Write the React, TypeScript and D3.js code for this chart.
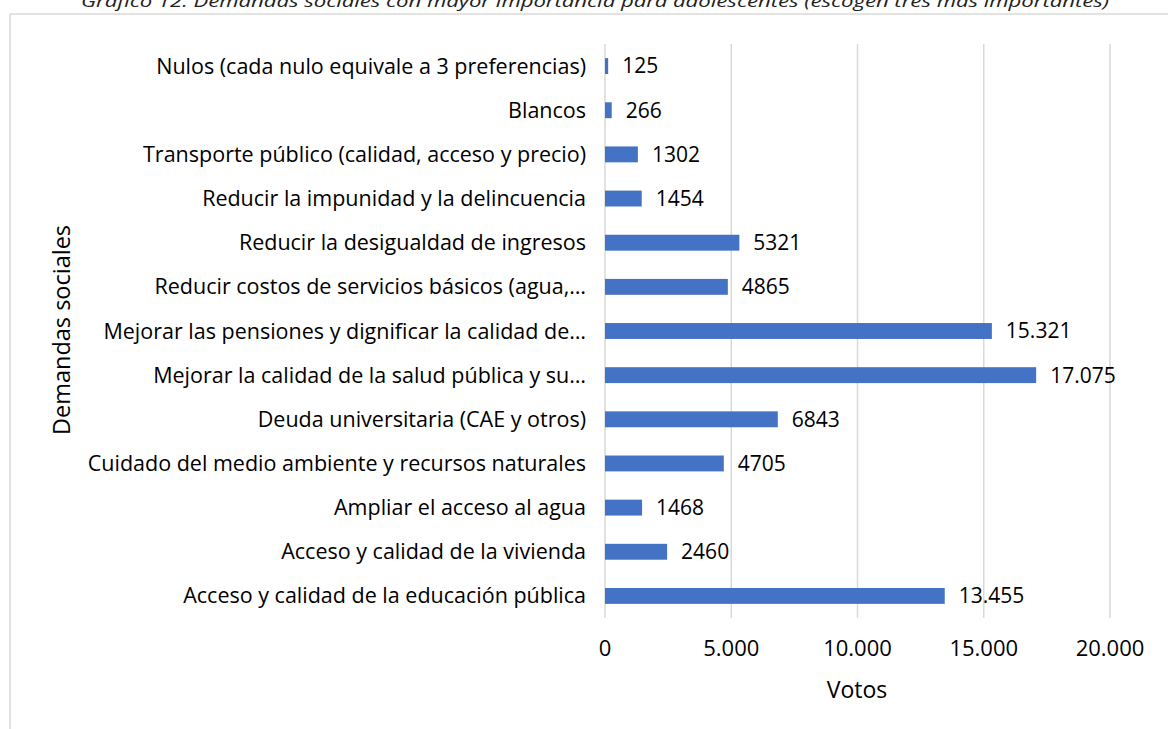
import React from "react";
import * as d3 from "d3";

const categories = [
  "Nulos (cada nulo equivale a 3 preferencias)",
  "Blancos",
  "Transporte público (calidad, acceso y precio)",
  "Reducir la impunidad y la delincuencia",
  "Reducir la desigualdad de ingresos",
  "Reducir costos de servicios básicos (agua,…",
  "Mejorar las pensiones y dignificar la calidad de…",
  "Mejorar la calidad de la salud pública y su…",
  "Deuda universitaria (CAE y otros)",
  "Cuidado del medio ambiente y recursos naturales",
  "Ampliar el acceso al agua",
  "Acceso y calidad de la vivienda",
  "Acceso y calidad de la educación pública",
];
const votes = [125, 266, 1302, 1454, 5321, 4865, 15321, 17075, 6843, 4705, 1468, 2460, 13455];
const xTicks = [0, 5000, 10000, 15000, 20000];
const title =
  "Gráfico 12: Demandas sociales con mayor importancia para adolescentes (escogen tres más importantes)";

const W = 1168;
const H = 729;
const FONT = "'Open Sans', sans-serif";

const fmtThousands = (v: number) => {
  const s = String(Math.round(v));
  return s.replace(/\B(?=(\d{3})+(?!\d))/g, ".");
};
const fmtLabel = (v: number) => (v >= 10000 ? fmtThousands(v) : String(v));
const fmtTick = (v: number) => (v === 0 ? "0" : fmtThousands(v));

export default function App() {
  const x = d3.scaleLinear().domain([0, 20000]).range([605, 1110]);
  const y = d3
    .scaleBand<string>()
    .domain(categories)
    .range([44, 618])
    .paddingInner(0.64)
    .paddingOuter(0.32);
  const bh = y.bandwidth();

  return (
    <svg
      width={W}
      height={H}
      style={{ position: "absolute", left: 0, top: 0, background: "#fff" }}
      fontFamily={FONT}
    >
      <rect x={0} y={0} width={W} height={H} fill="#fff" />
      <text
        x={595}
        y={7}
        textAnchor="middle"
        fontStyle="italic"
        fontSize={16}
        textLength={1028}
        lengthAdjust="spacingAndGlyphs"
        fill="#222"
      >
        {title}
      </text>
      {/* frame */}
      <rect x={10} y={14} width={W + 20} height={H + 20} fill="none" stroke="#d9d9d9" strokeWidth={1.5} />
      {/* gridlines */}
      {xTicks.map((t) => (
        <line key={t} x1={x(t)} x2={x(t)} y1={44} y2={618} stroke="#d9d9d9" strokeWidth={1.5} />
      ))}
      {/* bars */}
      {categories.map((c, i) => (
        <rect key={c} x={x(0)} y={y(c)!} width={x(votes[i]) - x(0)} height={bh} fill="#4472C4" />
      ))}
      {/* value labels */}
      {categories.map((c, i) => (
        <text
          key={c + "v"}
          x={x(votes[i]) + 14}
          y={y(c)! + bh / 2}
          dy="0.35em"
          fontSize={21}
          fill="#000"
        >
          {fmtLabel(votes[i])}
        </text>
      ))}
      {/* category labels */}
      {categories.map((c) => (
        <text
          key={c + "l"}
          x={586}
          y={y(c)! + bh / 2}
          dy="0.35em"
          textAnchor="end"
          fontSize={21.5}
          fill="#000"
        >
          {c}
        </text>
      ))}
      {/* tick labels */}
      {xTicks.map((t) => (
        <text key={t + "t"} x={x(t)} y={648} dy="0.35em" textAnchor="middle" fontSize={22} fill="#000">
          {fmtTick(t)}
        </text>
      ))}
      <text x={857} y={690} dy="0.35em" textAnchor="middle" fontSize={23} fill="#000">
        Votos
      </text>
      <text
        transform={`translate(62,330) rotate(-90)`}
        dy="0.35em"
        textAnchor="middle"
        fontSize={23.5}
        fill="#000"
      >
        Demandas sociales
      </text>
    </svg>
  );
}
